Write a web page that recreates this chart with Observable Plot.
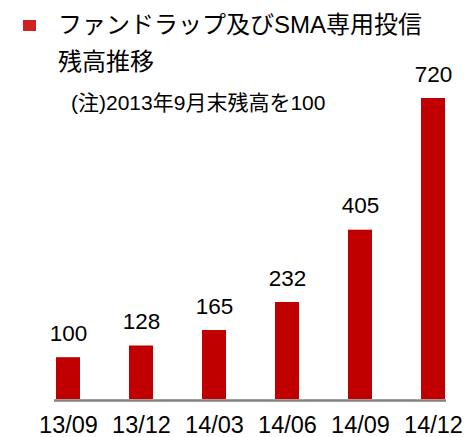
<!DOCTYPE html>
<html>
<head>
<meta charset="utf-8">
<script src="https://cdn.jsdelivr.net/npm/d3@7"></script>
<script src="https://cdn.jsdelivr.net/npm/@observablehq/plot@0.6"></script>
<style>
  html, body { margin: 0; padding: 0; background: #fff; }
  #wrap { position: relative; width: 464px; height: 437px; overflow: hidden; font-family: "Liberation Sans", Arial, "Noto Sans CJK JP", sans-serif; }
  #title { position: absolute; left: 58px; top: 6px; font-size: 24px; line-height: 37px; color: #000; white-space: nowrap; }
  #sq { position: absolute; left: 23px; top: 20px; width: 13px; height: 11px; background: #d02020; }
  #note { position: absolute; left: 71px; top: 91px; font-size: 21px; line-height: 24px; color: #000; white-space: nowrap; }
  #chart { position: absolute; left: 0; top: 0; }
</style>
</head>
<body>
<div id="wrap">
  <div id="chart"></div>
  <div id="sq"></div>
  <div id="title">ファンドラップ及びSMA専用投信<br>残高推移</div>
  <div id="note">(注)2013年9月末残高を100</div>
</div>
<script>
const periods = ["13/09", "13/12", "14/03", "14/06", "14/09", "14/12"];
const values = [100, 128, 165, 232, 405, 720];
const data = periods.map((p, i) => ({period: p, value: values[i]}));

const chart = Plot.plot({
  width: 464,
  height: 437,
  marginLeft: 54,
  marginRight: 18,
  marginTop: 98,
  marginBottom: 38,
  style: {fontFamily: "'Liberation Sans', Arial, sans-serif", background: "transparent"},
  x: {domain: periods, paddingInner: 0.674, paddingOuter: 0, label: null},
  y: {domain: [0, 720], axis: null},
  marks: [
    Plot.barY(data, {x: "period", y: "value", fill: "#c00000"}),
    Plot.ruleY([0], {stroke: "#808080", strokeWidth: 2.5, dy: 1}),
    Plot.text(data, {x: "period", y: "value", text: d => String(d.value), lineAnchor: "bottom", dy: -17, fontSize: 22.5, fill: "#000"}),
    Plot.axisX({tickSize: 0, tickPadding: 17, fontSize: 23.5, color: "#000", label: null})
  ]
});
document.getElementById("chart").appendChild(chart);
</script>
</body>
</html>
